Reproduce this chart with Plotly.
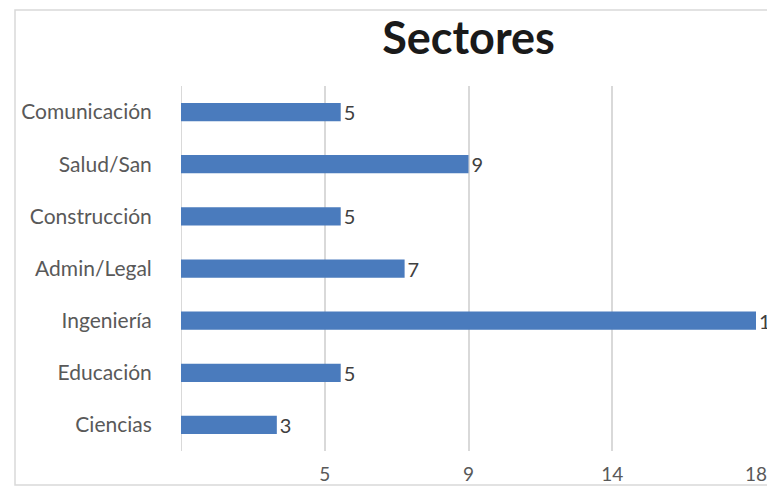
import plotly.graph_objects as go

categories = ["Comunicación", "Salud/San", "Construcción", "Admin/Legal", "Ingeniería", "Educación", "Ciencias"]
values = [5, 9, 5, 7, 18, 5, 3]
tick_vals = [4.5, 9, 13.5, 18]
tick_text = ["5", "9", "14", "18"]

# page body has an 8px margin, so the figure is shifted by 8px
OFF = 8
W, H = 775 - OFF, 487 - OFF
L, R, T, B = 181 - OFF, 19, 86 - OFF, 36
pw, ph = W - L - R, H - T - B
FONT = "Lato, Open Sans, sans-serif"

fig = go.Figure(go.Bar(
    x=values, y=categories, orientation="h",
    marker=dict(color="#4a7bbd", line=dict(width=0)),
    width=0.35,
    text=[str(v) for v in values], textposition="outside",
    constraintext="none",
    textfont=dict(family=FONT, size=20, color="#404040"),
    cliponaxis=False,
))

fig.update_layout(
    width=W, height=H,
    margin=dict(l=L, r=R, t=T, b=B, autoexpand=False),
    paper_bgcolor="white", plot_bgcolor="white",
    title=dict(text="<b>Sectores</b>", x=(L + pw / 2) / W, xanchor="center",
               y=1 - (38 - OFF) / H, yanchor="middle",
               font=dict(family=FONT, size=45, color="#1a1a1a")),
    xaxis=dict(range=[0, 18], tickvals=tick_vals, ticktext=tick_text,
               automargin=False,
               showgrid=True, gridcolor="#d9d9d9", gridwidth=1.5,
               zeroline=True, zerolinecolor="#d9d9d9", zerolinewidth=1,
               showline=False, ticks="outside", ticklen=6, tickcolor="rgba(0,0,0,0)",
               tickfont=dict(family=FONT, size=19, color="#595959")),
    yaxis=dict(categoryorder="array", categoryarray=categories[::-1],
               automargin=False,
               showgrid=False, showline=False,
               ticks="outside", ticklen=24, tickcolor="rgba(0,0,0,0)",
               tickfont=dict(family=FONT, size=21, color="#595959")),
    showlegend=False,
    shapes=[dict(type="rect", xref="paper", yref="paper",
                 x0=(15 - OFF - L) / pw, x1=(W + 10 - L) / pw,
                 y0=(H - B - (485 - OFF)) / ph, y1=(H - B - (10 - OFF)) / ph,
                 line=dict(color="#d9d9d9", width=1.5), fillcolor="rgba(0,0,0,0)",
                 layer="below")],
)

fig.write_html("out.html")
